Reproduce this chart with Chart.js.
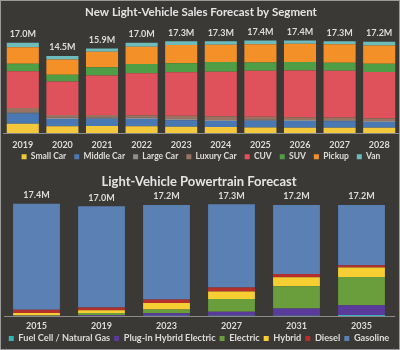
<!DOCTYPE html>
<html><head><meta charset="utf-8">
<script src="https://cdn.jsdelivr.net/npm/chart.js@4/dist/chart.umd.min.js"></script>
<style>
html,body{margin:0;padding:0;background:#3a3935;}
#frame{position:relative;width:400px;height:350px;box-sizing:border-box;border:1px solid #9a9a9a;background:#3a3935;overflow:hidden;}
#top{position:absolute;left:0;top:0;width:398px;height:170px;}
#bot{position:absolute;left:0;top:165px;width:398px;height:187px;}
</style></head>
<body><div id="frame"><div id="top"><canvas id="c1"></canvas></div><div id="bot"><canvas id="c2"></canvas></div></div>
<script>
// ---- Top chart data: New Light-Vehicle Sales Forecast by Segment (millions)
const years = ['2019','2020','2021','2022','2023','2024','2025','2026','2027','2028'];
const smallCar  = [1.75,1.25,1.30,1.25,1.20,1.15,1.05,1.00,1.00,1.00];
const middleCar = [1.90,1.40,1.40,1.40,1.20,1.10,1.25,1.25,1.20,1.05];
const largeCar  = [0.20,0.20,0.15,0.20,0.25,0.20,0.20,0.20,0.20,0.20];
const luxuryCar = [0.85,0.55,0.55,0.50,0.60,0.70,0.55,0.50,0.50,0.55];
const cuv       = [6.95,6.30,7.45,7.90,8.20,8.40,8.65,8.80,8.80,8.70];
const suv       = [1.40,1.25,1.55,1.75,1.70,1.80,1.60,1.60,1.55,1.55];
const pickup    = [3.10,2.90,2.90,3.25,3.40,3.25,3.40,3.45,3.45,3.45];
const van       = [0.85,0.65,0.60,0.75,0.75,0.70,0.70,0.60,0.60,0.70];
const segTotals = [17.0,14.5,15.9,17.0,17.3,17.3,17.4,17.4,17.3,17.2];

// ---- Bottom chart data: Light-Vehicle Powertrain Forecast (millions)
const ptYears   = ['2015','2019','2023','2027','2031','2035'];
const fuelCell  = [0.00,0.00,0.02,0.03,0.05,0.15];
const phev      = [0.02,0.10,0.40,0.62,1.10,1.50];
const electric  = [0.05,0.35,0.60,2.00,3.45,4.40];
const hybrid    = [0.40,0.45,1.00,1.15,1.40,1.45];
const diesel    = [0.50,0.40,0.55,0.62,0.52,0.37];
const gasoline  = [16.43,15.70,14.63,12.88,10.68,9.33];
const ptTotals  = [17.4,17.0,17.2,17.3,17.2,17.2];

const TXT = '#dcdcdc';
const FONT = 'Lato, "Open Sans", sans-serif';

function totalsPlugin(totals){
  return {
    id:'totals',
    afterDatasetsDraw(chart){
      const ctx = chart.ctx, ys = chart.scales.y;
      const meta0 = chart.getDatasetMeta(0);
      ctx.save();
      ctx.fillStyle = TXT;
      ctx.font = 'bold 9px ' + FONT;
      ctx.textAlign = 'center';
      ctx.textBaseline = 'bottom';
      totals.forEach((t,i)=>{
        let sum = 0;
        chart.data.datasets.forEach(ds=>{ sum += ds.data[i]; });
        const x = meta0.data[i].x;
        const y = ys.getPixelForValue(sum);
        ctx.fillText(t.toFixed(1)+'M', x, y - 4);
      });
      ctx.restore();
    }
  };
}

function makeChart(id, labels, sets, totals, title, o){
  return new Chart(document.getElementById(id), {
    type:'bar',
    data:{labels, datasets:sets.map(s=>({label:s[0], data:s[1], backgroundColor:s[2], borderWidth:0,
      categoryPercentage:o.cat, barPercentage:o.bar}))},
    options:{
      responsive:true, maintainAspectRatio:false, animation:false,
      layout:{padding:o.pad},
      plugins:{
        title:{display:true, text:title, color:'#e4e4e4', font:{family:FONT, size:o.titleSize, weight:'bold', lineHeight:1.2}, padding:o.titlePad},
        legend:{position:'bottom', labels:{color:TXT, font:{family:FONT, size:o.legSize, weight:'bold'}, boxWidth:5, boxHeight:5, padding:o.legPad}},
        tooltip:{enabled:false}
      },
      scales:{
        x:{stacked:true, grid:{display:false, drawTicks:false}, border:{display:true, color:'#8a8a8a', width:1},
           ticks:{color:TXT, font:{family:FONT, size:9, weight:'bold', lineHeight:1.2}, padding:o.tickPad},
           afterFit:(s)=>{ s.height = o.axisH; s._computeLabelArea = function(){ return undefined; }; }},
        y:{stacked:true, display:false, min:0, max:o.max}
      }
    },
    plugins:[totalsPlugin(totals)]
  });
}

makeChart('c1', years, [
  ['Small Car', smallCar, '#f3c83c'],
  ['Middle Car', middleCar, '#4a78b3'],
  ['Large Car', largeCar, '#8e8e8e'],
  ['Luxury Car', luxuryCar, '#9a7262'],
  ['CUV', cuv, '#e0525b'],
  ['SUV', suv, '#4f9e45'],
  ['Pickup', pickup, '#f39028'],
  ['Van', van, '#6dbcbb']
], segTotals, 'New Light-Vehicle Sales Forecast by Segment',
 {cat:0.9, bar:0.9, max:20, pad:{left:2,right:0,top:0,bottom:0}, titleSize:11.5, titlePad:{top:4.6,bottom:7.4},
  legSize:8.5, legPad:8, tickPad:6.5, axisH:11.5});

makeChart('c2', ptYears, [
  ['Fuel Cell / Natural Gas', fuelCell, '#38b2b4'],
  ['Plug-in Hybrid Electric', phev, '#5a3b9c'],
  ['Electric', electric, '#6a9d3b'],
  ['Hybrid', hybrid, '#f8cf32'],
  ['Diesel', diesel, '#b5302d'],
  ['Gasoline', gasoline, '#5b81b4']
], ptTotals, 'Light-Vehicle Powertrain Forecast',
 {cat:0.8, bar:0.9, max:19, pad:{left:3,right:5,top:0,bottom:0}, titleSize:13, titlePad:{top:7.9,bottom:3.9},
  legSize:9.2, legPad:4, tickPad:5, axisH:13.8});
</script>
</body></html>
